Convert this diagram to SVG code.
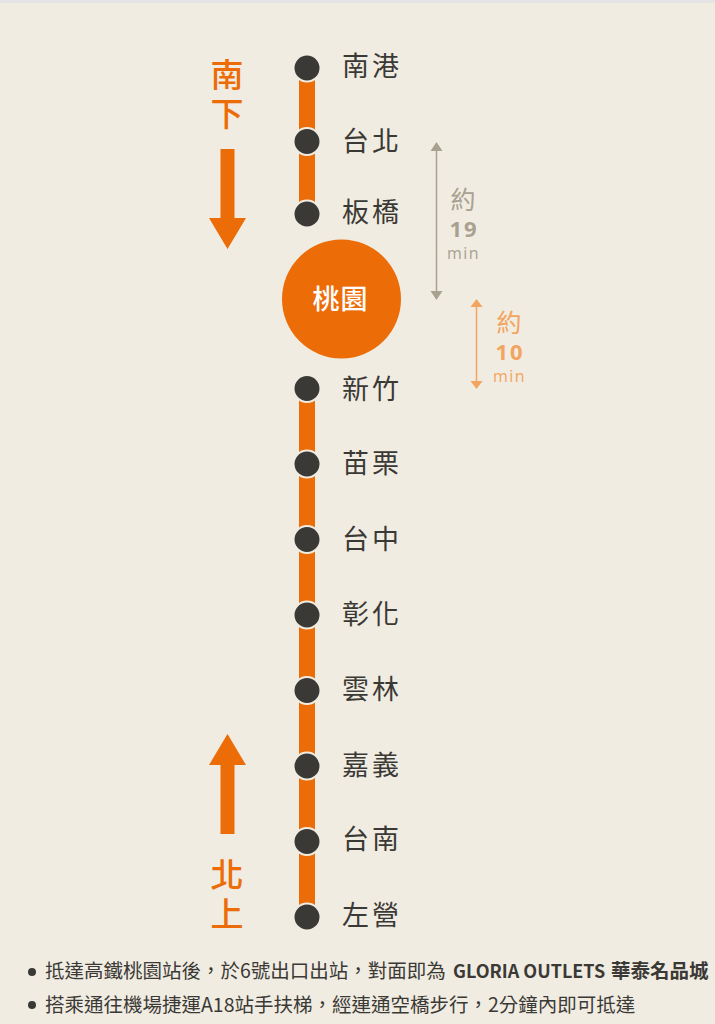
<svg xmlns="http://www.w3.org/2000/svg" width="715" height="1024" viewBox="0 0 715 1024">
<style>
text{font-family:"Noto Sans CJK TC","Noto Sans CJK SC",sans-serif}
.st{font-size:27px;fill:#3b3935;letter-spacing:3px;font-weight:400}
.dot{fill:#3b3935;stroke:#f0ece2;stroke-width:2}
.dir{font-size:33px;fill:#ec6c08;writing-mode:vertical-rl;letter-spacing:6px;font-weight:500}
.g{fill:#a9a18f;text-anchor:middle}
.o{fill:#f3a45e;text-anchor:middle}
.big{font-size:25px;font-weight:400}
.num{font-size:22px;font-weight:700;font-family:"Open Sans",sans-serif;letter-spacing:2px}
.min{font-size:16px;font-family:"Open Sans",sans-serif;letter-spacing:1.500px}
.note{font-size:19.500px;fill:#3b3935}
.b{font-weight:700}
</style>
<rect width="715" height="1024" fill="#f0ece2"/>
<rect width="715" height="3" fill="#e4e4e4"/>
<g id="connectors">
<rect x="299" y="68" width="16" height="146" fill="#ec6c08"/>
<rect x="299" y="389" width="16" height="528" fill="#ec6c08"/>
<path d="M220.500 149h14v69h11.500l-18.500 31-18.500-31h11.500z" fill="#ec6c08"/>
<path d="M220.500 834h14v-69h11.500l-18.500-31-18.500 31h11.500z" fill="#ec6c08"/>
<path d="M436.500 150V292" stroke="#a9a18f" stroke-width="1.500" fill="none"/>
<path d="M436.500 142l6 9h-12zM436.500 300l6-9h-12z" fill="#a9a18f"/>
<path d="M476.500 306V382" stroke="#f3a45e" stroke-width="1.500" fill="none"/>
<path d="M476.500 299l6 8h-12zM476.500 389l6-8h-12z" fill="#f3a45e"/>
</g>
<g id="n-nangang"><circle class="dot" cx="307" cy="68" r="13.500"/><text class="st" x="342" y="76">南港</text></g>
<g id="n-taipei"><circle class="dot" cx="307" cy="141.500" r="13.500"/><text class="st" x="342" y="151">台北</text></g>
<g id="n-banqiao"><circle class="dot" cx="307" cy="214" r="13.500"/><text class="st" x="342" y="222">板橋</text></g>
<g id="n-taoyuan"><circle cx="341.500" cy="299" r="59.500" fill="#ec6c08"/><text x="340.500" y="309" font-size="27" font-weight="500" letter-spacing="1" fill="#fff" text-anchor="middle">桃園</text></g>
<g id="n-hsinchu"><circle class="dot" cx="307" cy="388.500" r="13.500"/><text class="st" x="342" y="399">新竹</text></g>
<g id="n-miaoli"><circle class="dot" cx="307" cy="464" r="13.500"/><text class="st" x="342" y="473">苗栗</text></g>
<g id="n-taichung"><circle class="dot" cx="307" cy="539.500" r="13.500"/><text class="st" x="342" y="549">台中</text></g>
<g id="n-changhua"><circle class="dot" cx="307" cy="615" r="13.500"/><text class="st" x="342" y="624">彰化</text></g>
<g id="n-yunlin"><circle class="dot" cx="307" cy="690.500" r="13.500"/><text class="st" x="342" y="699">雲林</text></g>
<g id="n-chiayi"><circle class="dot" cx="307" cy="766" r="13.500"/><text class="st" x="342" y="775">嘉義</text></g>
<g id="n-tainan"><circle class="dot" cx="307" cy="841.500" r="13.500"/><text class="st" x="342" y="849">台南</text></g>
<g id="n-zuoying"><circle class="dot" cx="307" cy="917" r="13.500"/><text class="st" x="342" y="925">左營</text></g>
<g id="dir-south"><text class="dir" x="227" y="58">南下</text></g>
<g id="dir-north"><text class="dir" x="227" y="858">北上</text></g>
<g id="time-19"><text class="g big" x="463" y="209">約</text><text class="g num" x="464" y="237">19</text><text class="g min" x="463.500" y="259">min</text></g>
<g id="time-10"><text class="o big" x="509" y="332">約</text><text class="o num" x="510" y="360">10</text><text class="o min" x="509.500" y="382">min</text></g>
<g id="notes">
<circle cx="32" cy="972" r="4" fill="#3b3935"/>
<text class="note" x="45" y="978">抵達高鐵桃園站後，於6號出口出站，對面即為<tspan class="b" x="453" font-size="18">GLORIA OUTLETS</tspan><tspan class="b" x="611">華泰名品城</tspan></text>
<circle cx="32" cy="1005" r="4" fill="#3b3935"/>
<text class="note" x="45" y="1012">搭乘通往機場捷運A18站手扶梯，經連通空橋步行，2分鐘內即可抵達</text>
</g>
</svg>
